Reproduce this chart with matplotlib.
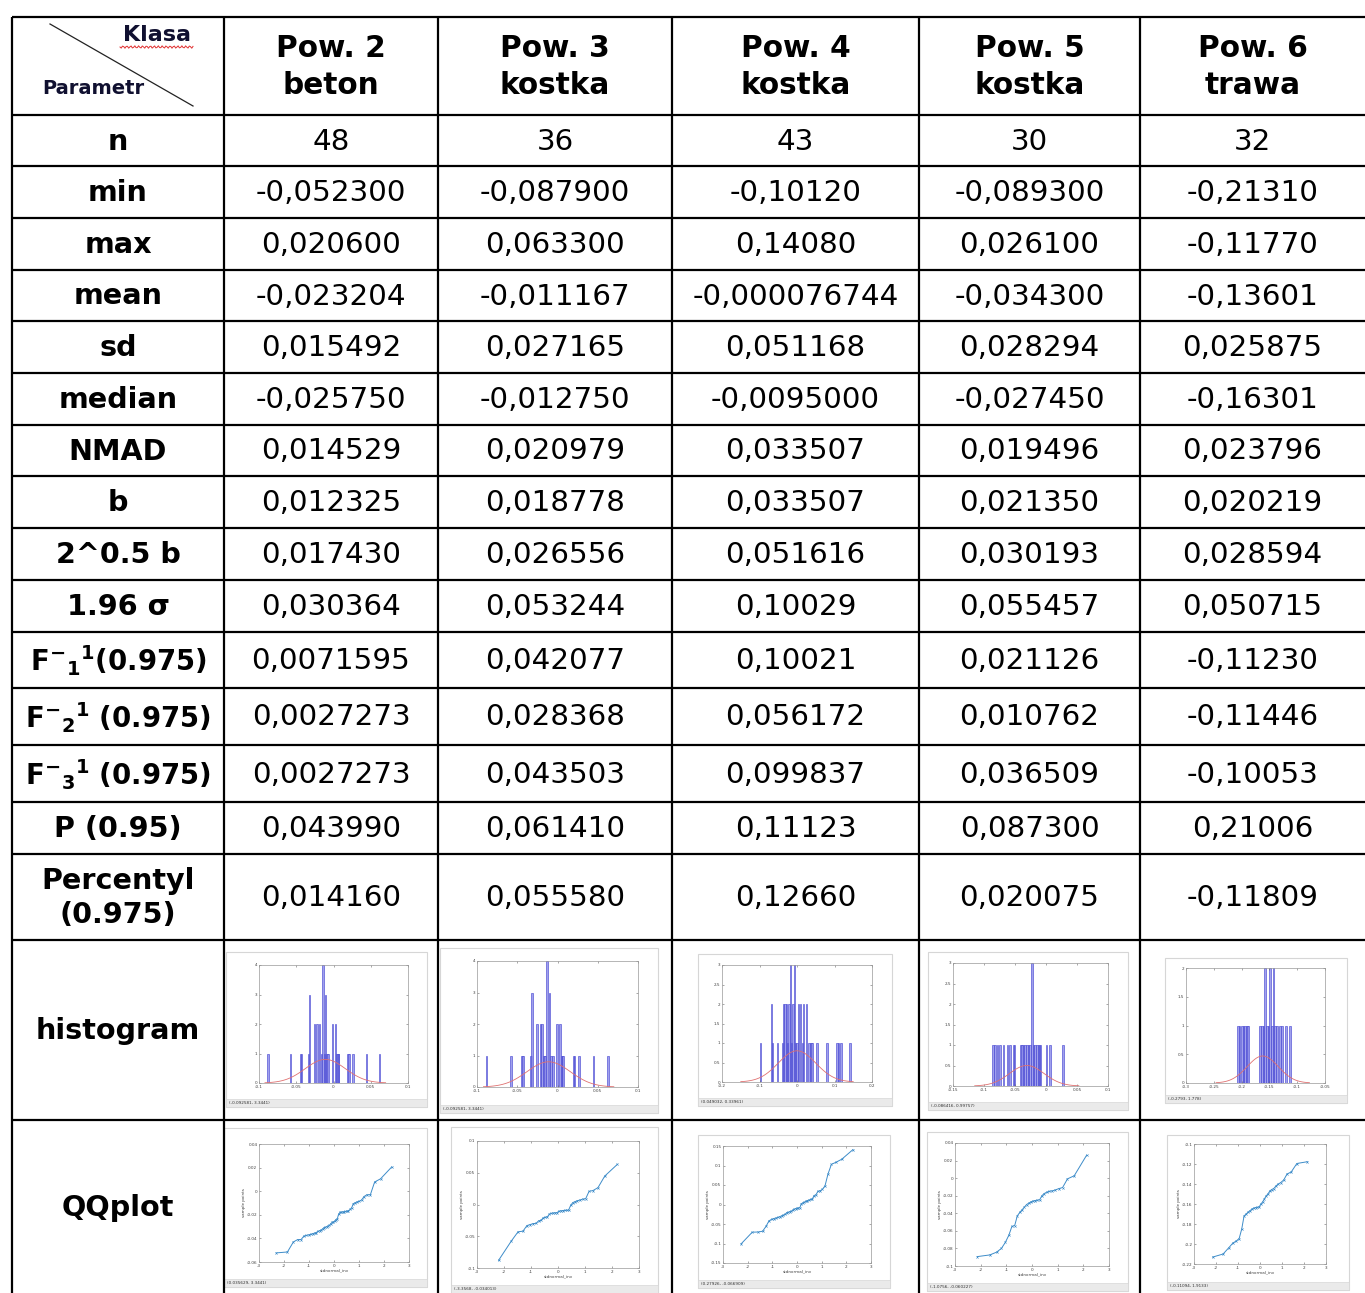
import numpy as np
import matplotlib.pyplot as plt
from matplotlib.patches import Rectangle
from statistics import NormalDist

plt.rcParams['font.family'] = ['DejaVu Sans']
plt.rcParams['mathtext.fontset'] = 'dejavusans'

# --- tabela: klasy i parametry -------------------------------------------
classes = ["Pow. 2\nbeton", "Pow. 3\nkostka", "Pow. 4\nkostka", "Pow. 5\nkostka", "Pow. 6\ntrawa"]
params = ["n", "min", "max", "mean", "sd", "median", "NMAD", "b", "2^0.5 b", "1.96 σ",
          r"$\mathbf{F}^{\mathbf{-}}{}_{\mathbf{1}}{}^{\mathbf{1}}\mathbf{(0.975)}$",
          r"$\mathbf{F}^{\mathbf{-}}{}_{\mathbf{2}}{}^{\mathbf{1}}\mathbf{\ (0.975)}$",
          r"$\mathbf{F}^{\mathbf{-}}{}_{\mathbf{3}}{}^{\mathbf{1}}\mathbf{\ (0.975)}$",
          "P (0.95)", "Percentyl\n(0.975)", "histogram", "QQplot"]

n_obs = [48, 36, 43, 30, 32]
v_min = ["-0,052300", "-0,087900", "-0,10120", "-0,089300", "-0,21310"]
v_max = ["0,020600", "0,063300", "0,14080", "0,026100", "-0,11770"]
v_mean = ["-0,023204", "-0,011167", "-0,000076744", "-0,034300", "-0,13601"]
v_sd = ["0,015492", "0,027165", "0,051168", "0,028294", "0,025875"]
v_median = ["-0,025750", "-0,012750", "-0,0095000", "-0,027450", "-0,16301"]
v_nmad = ["0,014529", "0,020979", "0,033507", "0,019496", "0,023796"]
v_b = ["0,012325", "0,018778", "0,033507", "0,021350", "0,020219"]
v_b2 = ["0,017430", "0,026556", "0,051616", "0,030193", "0,028594"]
v_sigma = ["0,030364", "0,053244", "0,10029", "0,055457", "0,050715"]
v_f1 = ["0,0071595", "0,042077", "0,10021", "0,021126", "-0,11230"]
v_f2 = ["0,0027273", "0,028368", "0,056172", "0,010762", "-0,11446"]
v_f3 = ["0,0027273", "0,043503", "0,099837", "0,036509", "-0,10053"]
v_p95 = ["0,043990", "0,061410", "0,11123", "0,087300", "0,21006"]
v_perc = ["0,014160", "0,055580", "0,12660", "0,020075", "-0,11809"]

# --- histogramy (położenie słupka, liczność) --------------------------------
hist_x = [
    [-0.0879, -0.0575, -0.0441, -0.0427, -0.0333, -0.0320, -0.0253, -0.0221, -0.0186, -0.0160,
     -0.0141, -0.0120, -0.0105, -0.0090, -0.0074, -0.0016, 0.0029, 0.0047, 0.0058, 0.0069,
     0.0195, 0.0208, 0.0262, 0.0441, 0.0620],
    [-0.0880, -0.0577, -0.0440, -0.0427, -0.0332, -0.0320, -0.0257, -0.0212, -0.0195, -0.0165,
     -0.0154, -0.0133, -0.0100, -0.0079, -0.0058, -0.0008, 0.0033, 0.0050, 0.0060, 0.0070,
     0.0200, 0.0212, 0.0266, 0.0448, 0.0627],
    [-0.0978, -0.0684, -0.0649, -0.0516, -0.0382, -0.0356, -0.0320, -0.0284, -0.0249, -0.0213,
     -0.0178, -0.0142, -0.0107, -0.0071, -0.0036, 0.0000, 0.0044, 0.0089, 0.0142, 0.0178,
     0.0249, 0.0320, 0.0373, 0.0400, 0.0533, 0.0800, 0.1067, 0.1110, 0.1170, 0.1420],
    [-0.0857, -0.0819, -0.0782, -0.0739, -0.0685, -0.0621, -0.0578, -0.0525, -0.0509, -0.0407,
     -0.0385, -0.0364, -0.0337, -0.0310, -0.0284, -0.0257, -0.0230, -0.0203, -0.0177, -0.0150,
     -0.0123, -0.0107, -0.0086, 0.0010, 0.0064, 0.0278],
    [-0.2067, -0.2037, -0.1995, -0.1965, -0.1935, -0.1905, -0.1882, -0.1666, -0.1636, -0.1607,
     -0.1577, -0.1547, -0.1517, -0.1487, -0.1457, -0.1427, -0.1397, -0.1367, -0.1307, -0.1278,
     -0.1200, -0.1128],
]
hist_n = [
    [1, 1, 1, 1, 1, 3, 2, 2, 2, 1, 4, 1, 3, 1, 1, 2, 2, 1, 1, 1, 1, 1, 1, 1, 1],
    [1, 1, 1, 1, 1, 3, 2, 2, 2, 1, 1, 4, 3, 1, 1, 2, 2, 1, 1, 1, 1, 1, 1, 1, 1],
    [1, 2, 1, 1, 1, 2, 2, 2, 1, 2, 3, 1, 2, 3, 1, 1, 2, 2, 1, 2, 2, 1, 1, 1, 1, 1, 1, 1, 1, 1],
    [1, 1, 1, 1, 1, 1, 1, 1, 1, 1, 1, 1, 1, 1, 1, 1, 3, 1, 1, 1, 1, 1, 1, 1, 1, 1],
    [1, 1, 1, 1, 1, 1, 1, 1, 1, 1, 2, 1, 1, 2, 1, 2, 1, 1, 1, 1, 1, 1],
]
# dopasowany rozkład normalny: środek, odchylenie, wysokość szczytu
fit_mu = [-0.011, -0.011, 0.0, -0.031, -0.162]
fit_sd = [0.027, 0.027, 0.05, 0.028, 0.028]
fit_peak = [0.8, 0.8, 0.8, 0.5, 0.47]
hist_xlim = [(-0.1, 0.1), (-0.1, 0.1), (-0.2, 0.2), (-0.15, 0.1), (-0.3, -0.05)]
hist_xstep = [0.05, 0.05, 0.1, 0.05, 0.05]
hist_ylim = [(0, 4), (0, 4), (0, 3), (0, 3), (0, 2)]
hist_ystep = [1, 1, 0.5, 0.5, 0.5]
hist_status = ["(-0.092581, 3.3441)", "(-0.092581, 3.3441)", "(0.049032, 0.33961)",
               "(-0.086416, 0.99757)", "(-0.2793, 1.778)"]

# --- wykresy kwantyl-kwantyl (posortowane próbki) ---------------------------
qq_y = [
    [-0.0523, -0.0515, -0.0430, -0.0410, -0.0410, -0.0380, -0.0375, -0.0370, -0.0365, -0.0360,
     -0.0355, -0.0350, -0.0340, -0.0335, -0.0330, -0.0320, -0.0310, -0.0305, -0.0300, -0.0295,
     -0.0290, -0.0275, -0.0265, -0.0260, -0.0255, -0.0240, -0.0235, -0.0195, -0.0180, -0.0178,
     -0.0176, -0.0174, -0.0172, -0.0170, -0.0165, -0.0155, -0.0140, -0.0105, -0.0098, -0.0090,
     -0.0085, -0.0075, -0.0045, -0.0030, -0.0030, 0.0078, 0.0105, 0.0206],
    [-0.0879, -0.0577, -0.0430, -0.0420, -0.0332, -0.0315, -0.0300, -0.0297, -0.0257, -0.0250,
     -0.0212, -0.0200, -0.0195, -0.0150, -0.0140, -0.0133, -0.0130, -0.0128, -0.0105, -0.0100,
     -0.0095, -0.0092, -0.0090, -0.0088, -0.0013, 0.0030, 0.0045, 0.0060, 0.0070, 0.0085,
     0.0090, 0.0207, 0.0220, 0.0265, 0.0448, 0.0633],
    [-0.1012, -0.0710, -0.0705, -0.0686, -0.0560, -0.0420, -0.0380, -0.0360, -0.0345, -0.0330,
     -0.0310, -0.0290, -0.0270, -0.0255, -0.0210, -0.0200, -0.0185, -0.0170, -0.0150, -0.0120,
     -0.0105, -0.0095, -0.0090, -0.0080, 0.0020, 0.0040, 0.0060, 0.0080, 0.0100, 0.0115,
     0.0130, 0.0140, 0.0230, 0.0250, 0.0340, 0.0350, 0.0390, 0.0480, 0.0780, 0.1030,
     0.1080, 0.1160, 0.1408],
    [-0.0893, -0.0874, -0.0843, -0.0800, -0.0730, -0.0650, -0.0550, -0.0540, -0.0430, -0.0390,
     -0.0360, -0.0330, -0.0300, -0.0285, -0.0270, -0.0260, -0.0255, -0.0250, -0.0248, -0.0200,
     -0.0175, -0.0160, -0.0150, -0.0145, -0.0135, -0.0120, -0.0107, -0.0008, 0.0027, 0.0261],
    [-0.2131, -0.2100, -0.2037, -0.1990, -0.1970, -0.1945, -0.1850, -0.1720, -0.1700, -0.1680,
     -0.1665, -0.1650, -0.1640, -0.1635, -0.1632, -0.1630, -0.1600, -0.1580, -0.1550, -0.1520,
     -0.1500, -0.1470, -0.1455, -0.1445, -0.1420, -0.1400, -0.1385, -0.1360, -0.1300, -0.1280,
     -0.1195, -0.1177],
]
qq_ylim = [(-0.06, 0.04), (-0.1, 0.1), (-0.15, 0.15), (-0.1, 0.04), (-0.22, -0.1)]
qq_ystep = [0.02, 0.05, 0.05, 0.02, 0.02]
qq_status = ["(0.035629, 3.3441)", "(-3.3568, -0.034013)", "(0.27926, -0.066909)",
             "(-1.0756, -0.060227)", "(-0.11094, 1.9133)"]

rows = [n_obs, v_min, v_max, v_mean, v_sd, v_median, v_nmad, v_b, v_b2, v_sigma,
        v_f1, v_f2, v_f3, v_p95, v_perc]

# --- geometria (piksele) ------------------------------------------------------
W, H = 1365, 1293
col_x = [12, 224, 438, 672, 919, 1140, 1365]
row_y = [17, 115, 166, 218, 270, 321, 373, 425, 476, 528, 580, 632, 688, 745, 802, 854,
         940, 1120, 1293]

# okno, obszar osi
hist_win = [(226, 952, 427, 1107), (440, 948, 658, 1113), (698, 954, 892, 1106),
            (928, 952, 1128, 1110), (1165, 958, 1347, 1103)]
hist_box = [(259, 965, 408, 1083), (477, 961, 638, 1087), (722, 965, 872, 1082),
            (953, 963, 1108, 1086), (1186, 968, 1325, 1083)]
qq_win = [(224, 1128, 427, 1287), (451, 1127, 658, 1293), (698, 1135, 890, 1288),
          (927, 1132, 1128, 1291), (1167, 1135, 1349, 1290)]
qq_box = [(259, 1144, 409, 1262), (477, 1141, 639, 1268), (723, 1146, 871, 1263),
          (955, 1143, 1109, 1266), (1194, 1144, 1326, 1264)]

fig = plt.figure(figsize=(W / 100, H / 100), dpi=100)
ax = fig.add_axes([0, 0, 1, 1])
ax.set_xlim(0, W)
ax.set_ylim(H, 0)
ax.axis("off")

LW = 1.6
for x in col_x[:-1]:
    ax.plot([x, x], [row_y[0], H + 2], color="black", lw=LW, solid_capstyle="butt")
for y in row_y[:-1]:
    ax.plot([col_x[0], W], [y, y], color="black", lw=LW, solid_capstyle="butt")

# nagłówek z przekątną
ax.plot([50, 193], [24, 106], color="#222222", lw=0.9)
ax.text(157, 35, "Klasa", fontsize=16, fontweight="bold", color="#101030",
        ha="center", va="center")
wx = np.linspace(120, 193, 60)
ax.plot(wx, 47 + 1.2 * np.sin((wx - 120) * 1.6), color="#e03030", lw=0.7)
ax.text(93, 89, "Parametr", fontsize=14, fontweight="bold", color="#101030",
        ha="center", va="center")

FS_LAB = 20.6
FS_VAL = 21.2
cx = [(col_x[i] + col_x[i + 1]) / 2 for i in range(6)]
for j, name in enumerate(classes):
    ax.text(cx[j + 1], 67, name, fontsize=21.3, fontweight="bold", ha="center", va="center",
            linespacing=1.36)

for i, name in enumerate(params):
    yc = (row_y[i + 1] + row_y[i + 2]) / 2
    fs = 19.8 if name.startswith("$") else FS_LAB
    ax.text(cx[0], yc + 1, name, fontsize=fs, fontweight="bold", ha="center",
            va="center", linespacing=1.27)
    if i < len(rows):
        for j, v in enumerate(rows[i]):
            ax.text(cx[j + 1], yc + 1, str(v), fontsize=FS_VAL, ha="center", va="center")


def fig_rect(box):
    x0, y0, x1, y1 = box
    return [x0 / W, 1 - y1 / H, (x1 - x0) / W, (y1 - y0) / H]


def window(box, status):
    x0, y0, x1, y1 = box
    ax.add_patch(Rectangle((x0, y0), x1 - x0, y1 - y0, facecolor="white",
                           edgecolor="#d6d6d6", lw=0.8))
    ax.add_patch(Rectangle((x0, y1 - 8), x1 - x0, 8, facecolor="#eaeaea",
                           edgecolor="#d6d6d6", lw=0.5))
    ax.text(x0 + 3, y1 - 4, status, fontsize=3, color="#303030", va="center")


def style_small(a, xlim, xticks, ylim, yticks):
    a.set_xlim(*xlim)
    a.set_ylim(*ylim)
    a.set_xticks(xticks)
    a.set_yticks(yticks)
    a.set_xticklabels([f"{round(t, 4) + 0.0:g}" for t in xticks])
    a.set_yticklabels([f"{round(t, 4) + 0.0:g}" for t in yticks])
    a.tick_params(direction="in", top=True, right=True, length=1.6, width=0.4,
                  labelsize=3, pad=1.2, colors="#666666", labelcolor="#404040")
    for s in a.spines.values():
        s.set_color("#999999")
        s.set_linewidth(0.5)


for k in range(5):
    # histogram
    window(hist_win[k], hist_status[k])
    h = fig.add_axes(fig_rect(hist_box[k]))
    lo, hi = hist_xlim[k]
    bw = 1.6 * (hi - lo) / (hist_box[k][2] - hist_box[k][0])
    h.bar(hist_x[k], hist_n[k], width=bw, color="#9090ea", edgecolor="#4545d2",
          linewidth=0.5, alpha=0.85)
    xs = np.linspace(fit_mu[k] - 3 * fit_sd[k], fit_mu[k] + 3 * fit_sd[k], 120)
    h.plot(xs, fit_peak[k] * np.exp(-0.5 * ((xs - fit_mu[k]) / fit_sd[k]) ** 2),
           color="#e07070", lw=0.6)
    xt = np.arange(lo, hi + 1e-9, hist_xstep[k])
    yt = np.arange(hist_ylim[k][0], hist_ylim[k][1] + 1e-9, hist_ystep[k])
    style_small(h, hist_xlim[k], xt, hist_ylim[k], yt)

    # wykres kwantyl-kwantyl
    window(qq_win[k], qq_status[k])
    q = fig.add_axes(fig_rect(qq_box[k]))
    n = n_obs[k]
    assert len(qq_y[k]) == n
    qx = [NormalDist().inv_cdf((i + 0.5) / n) for i in range(n)]
    q.plot(qx, qq_y[k], color="#3d8cc9", lw=0.7, marker="x", ms=1.6, mew=0.4)
    yt = np.arange(qq_ylim[k][0], qq_ylim[k][1] + 1e-9, qq_ystep[k])
    style_small(q, (-3, 3), np.arange(-3, 4), qq_ylim[k], yt)
    q.set_xlabel("stdnormal_inv", fontsize=3, labelpad=0.8, color="#404040")
    q.set_ylabel("sample points", fontsize=3, labelpad=0.8, color="#404040")

fig.savefig("out.png", dpi=100)
